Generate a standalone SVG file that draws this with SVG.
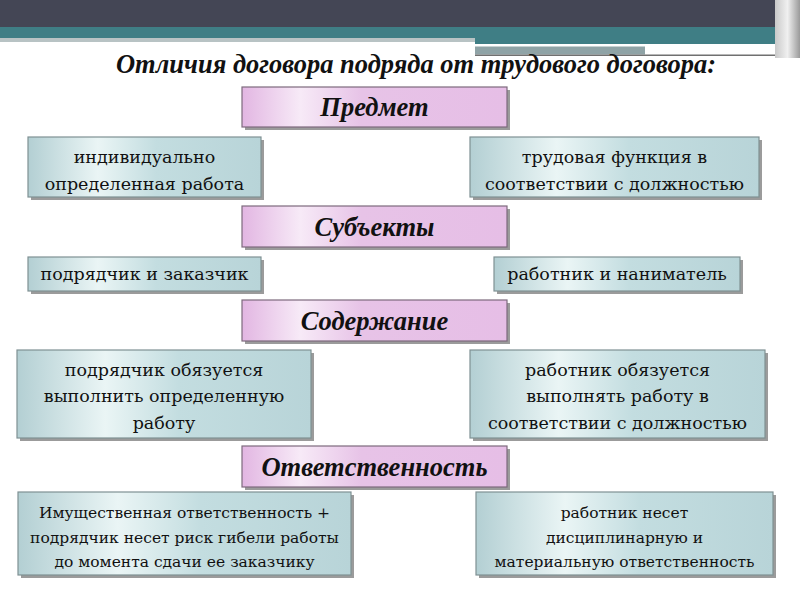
<svg xmlns="http://www.w3.org/2000/svg" width="800" height="600" viewBox="0 0 800 600">
<style>
.pink{fill:url(#gp);stroke:#7d6a7d;stroke-width:1.2}
.blue{fill:url(#gb);stroke:#7f9193;stroke-width:1.2}
.sh{fill:#7a7a7a;opacity:0.75}
.h{font-family:'Liberation Serif','Times New Roman',Times,serif;font-weight:bold;font-style:italic;font-size:26.5px;fill:#111;text-anchor:middle}
.t{font-family:'DejaVu Serif',serif;font-size:17.5px;fill:#111;text-anchor:middle}
.s{font-family:'DejaVu Serif',serif;font-size:15.5px;fill:#111;text-anchor:middle}
</style>
<defs>
<linearGradient id="gp" x1="0" y1="0" x2="1" y2="0">
<stop offset="0" stop-color="#e2b6e2"/>
<stop offset="0.22" stop-color="#f7eaf7"/>
<stop offset="0.45" stop-color="#e7c3e7"/>
<stop offset="1" stop-color="#e6bee6"/>
</linearGradient>
<linearGradient id="gb" x1="0" y1="0" x2="1" y2="0">
<stop offset="0" stop-color="#b3cfd3"/>
<stop offset="0.3" stop-color="#eaf5f5"/>
<stop offset="0.55" stop-color="#c3dde0"/>
<stop offset="1" stop-color="#b8d4d8"/>
</linearGradient>
<linearGradient id="edge" x1="0" y1="0" x2="1" y2="0">
<stop offset="0" stop-color="#c9c9c9"/>
<stop offset="0.5" stop-color="#f0f0f0"/>
<stop offset="1" stop-color="#9a9a9a"/>
</linearGradient>
</defs>
<rect width="800" height="600" fill="#ffffff"/>
<g id="header">
<rect x="0" y="0" width="800" height="27" fill="#444655"/>
<rect x="0" y="27" width="780" height="11" fill="#3f7e85"/>
<rect x="0" y="38" width="475" height="4" fill="#b8c3c4"/>
<rect x="475" y="38" width="305" height="6" fill="#3f7e85"/>
<rect x="475" y="44" width="266" height="2.5" fill="#ffffff"/>
<rect x="475" y="46.5" width="170" height="8" fill="#8fa3a6"/>
<rect x="645" y="51" width="125" height="3" fill="#ffffff"/>
<rect x="475" y="54.5" width="310" height="1.5" fill="#707070"/>
<rect x="775" y="0" width="25" height="58" fill="url(#edge)"/>
<text x="416" y="73" class="h" font-size="25" textLength="600" lengthAdjust="spacingAndGlyphs">Отличия договора подряда от трудового договора:</text>
</g>
<g id="predmet">
<rect class="sh" x="245" y="90" width="265" height="40"/>
<rect class="pink" x="242" y="87" width="265" height="40"/>
<text class="h" x="374.5" y="116">Предмет</text>
</g>
<g id="subjekty">
<rect class="sh" x="245" y="209" width="265" height="41"/>
<rect class="pink" x="242" y="206" width="265" height="41"/>
<text class="h" x="374.5" y="236">Субъекты</text>
</g>
<g id="soderzhanie">
<rect class="sh" x="245" y="303" width="265" height="41"/>
<rect class="pink" x="242" y="300" width="265" height="41"/>
<text class="h" x="374.5" y="330">Содержание</text>
</g>
<g id="otvetstvennost">
<rect class="sh" x="245" y="449" width="265" height="41"/>
<rect class="pink" x="242" y="446" width="265" height="41"/>
<text class="h" x="374.5" y="476">Ответственность</text>
</g>
<g id="b1">
<rect class="sh" x="31" y="140" width="233" height="60"/>
<rect class="blue" x="28" y="137" width="233" height="60"/>
<text class="t" x="144.5" y="163">индивидуально</text>
<text class="t" x="144.5" y="190">определенная работа</text>
</g>
<g id="b2">
<rect class="sh" x="473" y="140" width="289" height="60"/>
<rect class="blue" x="470" y="137" width="289" height="60"/>
<text class="t" x="614.5" y="163">трудовая функция в</text>
<text class="t" x="614.5" y="190">соответствии с должностью</text>
</g>
<g id="b3">
<rect class="sh" x="31" y="260" width="233" height="34"/>
<rect class="blue" x="28" y="257" width="233" height="34"/>
<text class="t" x="144.5" y="280">подрядчик и заказчик</text>
</g>
<g id="b4">
<rect class="sh" x="497" y="260" width="246" height="34"/>
<rect class="blue" x="494" y="257" width="246" height="34"/>
<text class="t" x="617" y="280">работник и наниматель</text>
</g>
<g id="b5">
<rect class="sh" x="20" y="353" width="294" height="88"/>
<rect class="blue" x="17" y="350" width="294" height="88"/>
<text class="t" x="164" y="376">подрядчик обязуется</text>
<text class="t" x="164" y="402">выполнить определенную</text>
<text class="t" x="164" y="429">работу</text>
</g>
<g id="b6">
<rect class="sh" x="473" y="353" width="295" height="88"/>
<rect class="blue" x="470" y="350" width="295" height="88"/>
<text class="t" x="617.5" y="376">работник обязуется</text>
<text class="t" x="617.5" y="402">выполнять работу в</text>
<text class="t" x="617.5" y="429">соответствии с должностью</text>
</g>
<g id="b7">
<rect class="sh" x="21" y="495" width="333" height="83"/>
<rect class="blue" x="18" y="492" width="333" height="83"/>
<text class="s" x="184.5" y="518">Имущественная ответственность +</text>
<text class="s" x="184.5" y="543">подрядчик несет риск гибели работы</text>
<text class="s" x="184.5" y="567">до момента сдачи ее заказчику</text>
</g>
<g id="b8">
<rect class="sh" x="479" y="495" width="297" height="83"/>
<rect class="blue" x="476" y="492" width="297" height="83"/>
<text class="s" x="624.5" y="518">работник несет</text>
<text class="s" x="624.5" y="543">дисциплинарную и</text>
<text class="s" x="624.5" y="567">материальную ответственность</text>
</g>
<g id="connectors"/>
</svg>
